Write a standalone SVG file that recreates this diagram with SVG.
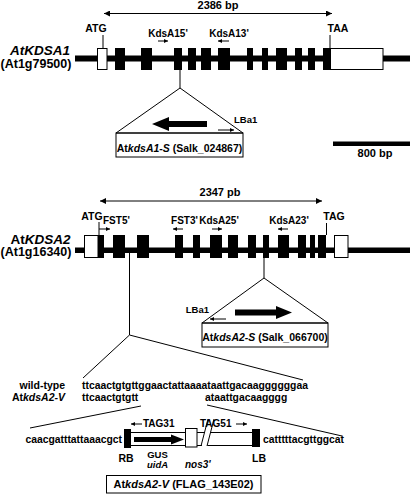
<svg xmlns="http://www.w3.org/2000/svg" width="410" height="496" viewBox="0 0 410 496">
<defs>
<style>
.t{font-family:"Liberation Sans",Arial,sans-serif;font-weight:bold;fill:#000}
.i{font-style:italic}
.ln{stroke:#000;stroke-width:1;fill:none}
.bx{fill:#000}
.wx{fill:#fff;stroke:#000;stroke-width:1}
.pa{stroke:#000;stroke-width:1;fill:none;marker-end:url(#sa)}
.da{stroke:#000;stroke-width:1;fill:none;marker-start:url(#ah);marker-end:url(#ah)}
</style>
<marker id="ah" viewBox="0 0 10 10" refX="10" refY="5" markerWidth="8" markerHeight="6" markerUnits="userSpaceOnUse" orient="auto-start-reverse"><path d="M0,0 L10,5 L0,10z"/></marker>
<marker id="sa" viewBox="0 0 10 10" refX="10" refY="5" markerWidth="5" markerHeight="4" markerUnits="userSpaceOnUse" orient="auto"><path d="M0,0 L10,5 L0,10z"/></marker>
</defs>
<rect width="410" height="496" fill="#fff"/>

<g id="gene1">
<line class="da" x1="104" y1="13.5" x2="332" y2="13.5"/>
<text class="t" x="218" y="9" font-size="11" text-anchor="middle">2386 bp</text>
<rect class="bx" x="75" y="55.5" width="335" height="6"/>
<rect class="wx" x="97.5" y="48.5" width="9.5" height="21"/>
<rect class="bx" x="115" y="48" width="10" height="22"/>
<rect class="bx" x="141" y="48" width="11" height="22"/>
<rect class="bx" x="174" y="48" width="8" height="22"/>
<rect class="bx" x="188" y="48" width="8" height="22"/>
<rect class="bx" x="201" y="48" width="10" height="22"/>
<rect class="bx" x="218" y="48" width="12" height="22"/>
<rect class="bx" x="247" y="48" width="6" height="22"/>
<rect class="bx" x="262" y="48" width="6" height="22"/>
<rect class="bx" x="276" y="48" width="11" height="22"/>
<rect class="bx" x="295" y="48" width="7" height="22"/>
<rect class="bx" x="308" y="48" width="7" height="22"/>
<rect class="bx" x="323" y="48" width="7" height="22"/>
<rect class="wx" x="330.5" y="48.5" width="52.5" height="21"/>
<line class="ln" x1="103" y1="35" x2="103" y2="48"/>
<text class="t" x="96" y="32" font-size="10.5" text-anchor="middle">ATG</text>
<line class="ln" x1="330" y1="35" x2="330" y2="48"/>
<text class="t" x="338" y="32" font-size="10.5" text-anchor="middle">TAA</text>
<text class="t" x="168" y="37" font-size="10" text-anchor="middle">KdsA15'</text>
<line class="pa" x1="158" y1="41" x2="168" y2="41"/>
<text class="t" x="229" y="37" font-size="10" text-anchor="middle">KdsA13'</text>
<line class="pa" x1="229" y1="41" x2="218" y2="41"/>
<text class="t i" x="40" y="55" font-size="13.5" text-anchor="middle">AtKDSA1</text>
<text class="t" x="36" y="68" font-size="12.5" text-anchor="middle">(At1g79500)</text>
</g>

<g id="insert1">
<polygon class="ln" points="116,133 180,88 243,133"/>
<rect class="ln" x="116" y="133" width="127" height="24"/>
<polygon class="bx" points="152,124 169,117 169,121 207,121 207,127 169,127 169,131"/>
<text class="t" x="234" y="123" font-size="9.5">LBa1</text>
<line class="pa" x1="218" y1="130" x2="234" y2="130"/>
<text class="t" x="179.5" y="152" font-size="10.5" text-anchor="middle">At<tspan class="i">kdsA1-S</tspan> (Salk_024867)</text>
</g>

<g id="scalebar">
<rect class="bx" x="333" y="141.5" width="77" height="4.5"/>
<text class="t" x="375" y="157" font-size="11" text-anchor="middle">800 bp</text>
</g>

<g id="gene2">
<line class="da" x1="100" y1="201" x2="322" y2="201"/>
<text class="t" x="220" y="196" font-size="11" text-anchor="middle">2347 pb</text>
<rect class="bx" x="75" y="247.5" width="335" height="5.5"/>
<rect class="wx" x="84.5" y="235.5" width="13.5" height="22"/>
<rect class="bx" x="98" y="235" width="6" height="23"/>
<rect class="bx" x="113" y="235" width="12" height="23"/>
<rect class="bx" x="137" y="235" width="12" height="23"/>
<rect class="bx" x="175" y="235" width="8" height="23"/>
<rect class="bx" x="193" y="235" width="7" height="23"/>
<rect class="bx" x="210" y="235" width="12" height="23"/>
<rect class="bx" x="228" y="235" width="10" height="23"/>
<rect class="bx" x="248" y="235" width="8" height="23"/>
<rect class="bx" x="263" y="235" width="6" height="23"/>
<rect class="bx" x="278" y="235" width="11" height="23"/>
<rect class="bx" x="298" y="235" width="8" height="23"/>
<rect class="bx" x="310" y="235" width="5" height="23"/>
<rect class="bx" x="318" y="235" width="8" height="23"/>
<rect class="wx" x="334.5" y="235.5" width="13.5" height="22"/>
<text class="t" x="92" y="220" font-size="10.5" text-anchor="middle">ATG</text>
<line class="ln" x1="99" y1="222" x2="99" y2="235"/>
<line class="pa" x1="99" y1="229" x2="110" y2="229"/>
<text class="t" x="103" y="224" font-size="10">FST5'</text>
<text class="t" x="184.5" y="224" font-size="10" text-anchor="middle">FST3'</text>
<line class="pa" x1="183" y1="229" x2="173" y2="229"/>
<text class="t" x="219" y="224" font-size="10" text-anchor="middle">KdsA25'</text>
<line class="pa" x1="212" y1="229" x2="222" y2="229"/>
<text class="t" x="289" y="224" font-size="10" text-anchor="middle">KdsA23'</text>
<line class="pa" x1="288" y1="229" x2="278" y2="229"/>
<text class="t" x="334" y="220" font-size="10.5" text-anchor="middle">TAG</text>
<line class="ln" x1="326.5" y1="223" x2="326.5" y2="235"/>
<text class="t" x="40.5" y="243.5" font-size="13.5" text-anchor="middle">At<tspan class="i">KDSA2</tspan></text>
<text class="t" x="36" y="256" font-size="12.5" text-anchor="middle">(At1g16340)</text>
</g>

<g id="insert2">
<polygon class="ln" points="202,323 264,278 328,323"/>
<rect class="ln" x="202" y="323" width="126" height="24"/>
<polygon class="bx" points="235,309.5 276,309.5 276,306 292,312.5 276,319 276,315.5 235,315.5"/>
<text class="t" x="209" y="313" font-size="9.5" text-anchor="end">LBa1</text>
<line class="pa" x1="226" y1="319" x2="210" y2="319"/>
<text class="t" x="265" y="341" font-size="10.5" text-anchor="middle">At<tspan class="i">kdsA2-S</tspan> (Salk_066700)</text>
</g>

<g id="sequences">
<text class="t" x="65" y="389" font-size="10.5" text-anchor="end">wild-type</text>
<text class="t" x="65" y="401" font-size="10.5" text-anchor="end">At<tspan class="i">kdsA2-V</tspan></text>
<text class="t" x="82" y="389" font-size="10.35">ttcaactgtgttggaactattaaaataattgacaaggggggaa</text>
<text class="t" x="82" y="401" font-size="10.35">ttcaactgtgtt</text>
<text class="t" x="205" y="401" font-size="10.35">ataattgacaagggg</text>
</g>

<g id="tdna">
<text class="t" x="122" y="443" font-size="10.35" text-anchor="end">caacgatttattaaacgct</text>
<line class="ln" x1="131" y1="432.5" x2="252" y2="432.5"/>
<line class="ln" x1="131" y1="445.5" x2="252" y2="445.5"/>
<polygon points="201.5,447 208.5,418 214,418 207,447" fill="#fff"/>
<line class="ln" x1="201" y1="446" x2="208" y2="419"/>
<line class="ln" x1="207" y1="446" x2="214" y2="419"/>
<rect class="bx" x="124" y="429" width="7" height="19"/>
<rect class="bx" x="252" y="429" width="8" height="18"/>
<polygon class="bx" points="134,437 171,437 171,434.5 184,439.5 171,444.5 171,442 134,442"/>
<rect class="wx" x="185.5" y="428.5" width="11.5" height="18.5"/>
<text class="t" x="263" y="443" font-size="10.35">catttttacgttggcat</text>
<line class="pa" x1="142" y1="424" x2="131" y2="424"/>
<text class="t" x="143" y="427" font-size="10">TAG31</text>
<text class="t" x="200" y="427" font-size="10">TAG51</text>
<line class="pa" x1="236" y1="424" x2="247" y2="424"/>
<text class="t" x="126" y="462" font-size="10.5" text-anchor="middle">RB</text>
<text class="t" x="157.5" y="457.5" font-size="9.5" text-anchor="middle">GUS</text>
<text class="t i" x="157.5" y="468" font-size="9.5" text-anchor="middle">uidA</text>
<text class="t i" x="185" y="468" font-size="10">nos3'</text>
<text class="t" x="259" y="462" font-size="10.5" text-anchor="middle">LB</text>
<rect class="ln" x="106.5" y="475.5" width="154.5" height="17.5"/>
<text class="t" x="183.5" y="488" font-size="11" text-anchor="middle">At<tspan class="i">kdsA2-V</tspan> (FLAG_143E02)</text>
</g>

<g id="connectors">
<line class="ln" x1="180" y1="70" x2="180" y2="88"/>
<line class="ln" x1="264" y1="258" x2="264" y2="278"/>
<line class="ln" x1="129.5" y1="253" x2="129.5" y2="335"/>
<line class="ln" x1="129.5" y1="335" x2="83" y2="378"/>
<line class="ln" x1="129.5" y1="335" x2="303" y2="380"/>
<line class="ln" x1="141" y1="406" x2="30" y2="428"/>
<line class="ln" x1="207" y1="405" x2="342" y2="436"/>
</g>
</svg>
